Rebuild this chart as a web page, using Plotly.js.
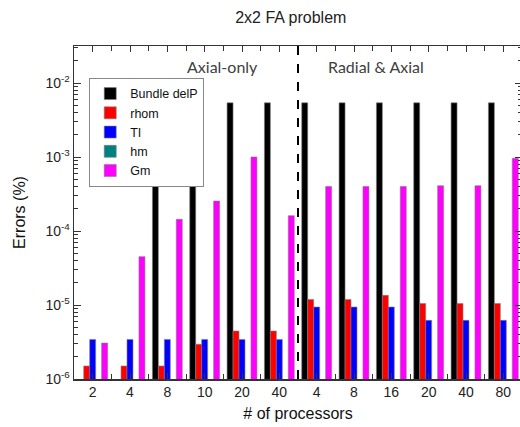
<!DOCTYPE html>
<html>
<head>
<meta charset="utf-8">
<script src="https://cdn.plot.ly/plotly-3.0.1.min.js"></script>
<style>
html, body { margin:0; padding:0; overflow:hidden; background:#fff; }
#chart { width:524px; height:427px; }
</style>
</head>
<body>
<div id="chart"></div>
<script>
// Category (# of processors) labels, index positions 0..11
const procLabels = ["2","4","8","10","20","40","4","8","16","20","40","80"];
const groupNames = ["Axial-only", "Radial & Axial"];

// Errors (%) per series (null = not visible)
const bundleDelP = [null, null, 5.4e-3, 5.4e-3, 5.4e-3, 5.4e-3, 5.4e-3, 5.4e-3, 5.4e-3, 5.4e-3, 5.4e-3, 5.4e-3];
const rhom       = [1.5e-6, 1.5e-6, 1.5e-6, 2.94e-6, 4.45e-6, 4.45e-6, 1.19e-5, 1.19e-5, 1.35e-5, 1.05e-5, 1.05e-5, 1.05e-5];
const TI         = [3.43e-6, 3.43e-6, 3.43e-6, 3.43e-6, 3.43e-6, 3.43e-6, 9.4e-6, 9.4e-6, 9.4e-6, 6.2e-6, 6.2e-6, 6.2e-6];
const hm         = [null, null, null, null, null, null, null, null, null, null, null, null];
const Gm         = [3.06e-6, 4.5e-5, 1.44e-4, 2.54e-4, 1.0e-3, 1.61e-4, 3.99e-4, 3.99e-4, 3.99e-4, 4.09e-4, 4.09e-4, 9.6e-4];

const yTickVals = [1e-6, 1e-5, 1e-4, 1e-3, 1e-2];
const yTickText = ["10<sup>-6</sup>", "10<sup>-5</sup>", "10<sup>-4</sup>", "10<sup>-3</sup>", "10<sup>-2</sup>"];

const xIdx = procLabels.map((_, i) => i);
const outline = {width: 0.6, color: "#808080"};

const series = [
  {name: "Bundle delP", y: bundleDelP, color: "#000000"},
  {name: "rhom", y: rhom, color: "#FF0000"},
  {name: "TI", y: TI, color: "#0000FF"},
  {name: "hm", y: hm, color: "#008080"},
  {name: "Gm", y: Gm, color: "#FF00FF"}
];

const traces = series.map(s => ({
  type: "bar", name: s.name, x: xIdx, y: s.y,
  marker: {color: s.color, line: outline}
}));

const axisColor = "#333333";
const font = "Liberation Sans, Arial, sans-serif";

const layout = {
  width: 524, height: 427,
  margin: {l: 74, r: 2, t: 46, b: 48},
  paper_bgcolor: "#fff", plot_bgcolor: "#fff",
  font: {family: font, size: 13, color: "#222"},
  barmode: "group", bargap: 0.2, bargroupgap: 0,
  showlegend: true,
  title: {text: "2x2 FA problem", font: {family: font, size: 16, color: "#222"}, x: 0.555, xanchor: "center", y: 0.96, yanchor: "middle"},
  xaxis: {
    range: [-0.5, procLabels.length - 0.5],
    tickmode: "array", tickvals: xIdx, ticktext: procLabels,
    ticks: "inside", ticklen: 6, tickwidth: 1, tickcolor: axisColor,
    minor: {tickvals: xIdx.slice(0, -1).map(i => i + 0.5), ticks: "inside", ticklen: 5, tickwidth: 1, tickcolor: axisColor},
    showline: true, linecolor: axisColor, linewidth: 1.5, mirror: "ticks",
    showgrid: false, zeroline: false,
    tickfont: {family: font, size: 14, color: "#222"},
    title: {text: "# of processors", font: {family: font, size: 16, color: "#111"}, standoff: 8}
  },
  yaxis: {
    type: "log", range: [-6, -1.5],
    tickmode: "array", tickvals: yTickVals, ticktext: yTickText,
    ticks: "inside", ticklen: 7, tickwidth: 1, tickcolor: axisColor,
    minor: {dtick: "D1", ticks: "inside", ticklen: 4, tickwidth: 1, tickcolor: axisColor, showgrid: false},
    showline: true, linecolor: axisColor, linewidth: 1.5, mirror: "ticks",
    showgrid: false, zeroline: false,
    tickfont: {family: font, size: 14, color: "#222"},
    title: {text: "Errors (%)", font: {family: font, size: 16, color: "#111"}, standoff: 16}
  },
  legend: {
    x: 0.034, y: 0.904, xanchor: "left", yanchor: "top",
    bgcolor: "#fff", bordercolor: "#888", borderwidth: 1,
    font: {family: font, size: 12.5, color: "#111"},
    tracegroupgap: 0, itemwidth: 30
  },
  shapes: [{
    type: "line", xref: "x", yref: "paper", x0: 5.5, x1: 5.5, y0: 0, y1: 1,
    line: {color: "#000", width: 2, dash: "dash"}
  }],
  annotations: [
    {text: groupNames[0], xref: "x", yref: "paper", x: 3.49, y: 0.937, xanchor: "center", yanchor: "middle", showarrow: false,
     font: {family: "Lato, Open Sans, sans-serif", size: 16, color: "#404040"}},
    {text: groupNames[1], xref: "x", yref: "paper", x: 7.59, y: 0.937, xanchor: "center", yanchor: "middle", showarrow: false,
     font: {family: "Lato, Open Sans, sans-serif", size: 16, color: "#404040"}}
  ]
};

Plotly.newPlot("chart", traces, layout, {displayModeBar: false, staticPlot: true});
</script>
</body>
</html>
